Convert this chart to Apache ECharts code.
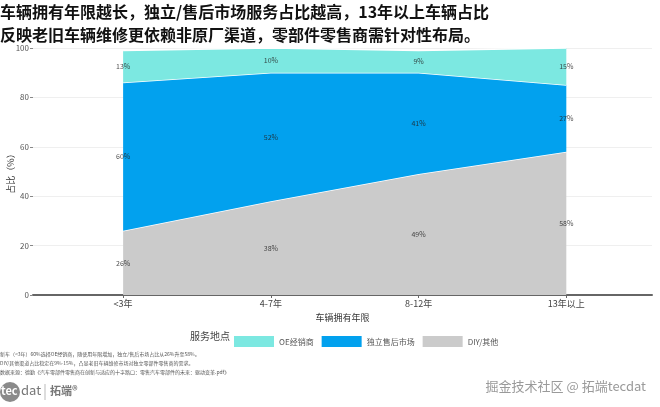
<!DOCTYPE html>
<html>
<head>
<meta charset="utf-8">
<script src="https://cdn.jsdelivr.net/npm/echarts@6/dist/echarts.min.js"></script>
<style>
  html, body { margin: 0; padding: 0; background: #fff; }
  #chart { width: 660px; height: 407px; }
</style>
</head>
<body>
<div id="chart"></div>
<script>
// 车辆拥有年限
const categories = ['<3年', '4-7年', '8-12年', '13年以上']
// 各服务地点占比（%）
const oeDealer = [13, 10, 9, 15]
const independent = [60, 52, 41, 27]
const diyOther = [26, 38, 49, 58]
const yTicks = [0, 20, 40, 60, 80, 100]

const names = ['DIY/其他', '独立售后市场', 'OE经销商']
const colors = ['#cbcbcb', '#02a1ee', '#7ce8e1']
const stacks = [diyOther, independent, oeDealer]

const font = '"Noto Sans CJK SC", sans-serif'

// 每个区块中间的标签位置
const labelData = []
stacks.forEach((arr, s) => {
    arr.forEach((v, i) => {
        let base = 0
        for (let k = 0; k < s; k++) base += stacks[k][i]
        labelData.push({ value: [i + 1, base + v / 2], pct: v })
    })
})

// 数据写成 [占比, 位置]，让堆叠落在 y 维度上
const areaSeries = stacks.map((arr, s) => ({
    name: names[s],
    type: 'line',
    stack: 'total',
    symbol: 'none',
    encode: { x: 1, y: 0 },
    data: arr.map((v, i) => [v, i + 1]),
    lineStyle: { color: '#fff', width: 1.5 },
    itemStyle: { color: colors[s] },
    areaStyle: { color: colors[s], opacity: 1 },
    z: 2 + s
}))

var myChart = echarts.init(document.getElementById('chart'))
var option = {
    animation: false,
    textStyle: { fontFamily: font },
    title: {
        text: '车辆拥有年限越长，独立/售后市场服务占比越高，13年以上车辆占比\n反映老旧车辆维修更依赖非原厂渠道，零部件零售商需针对性布局。',
        left: 0,
        top: 0,
        padding: 0,
        textStyle: { fontFamily: font, fontSize: 16, fontWeight: 'bold', color: '#111', lineHeight: 23 }
    },
    grid: { left: 33, right: 8, top: 48, bottom: 112, outerBoundsMode: 'none' },
    legend: {
        data: ['OE经销商', '独立售后市场', 'DIY/其他'],
        left: 229,
        top: 331,
        icon: 'rect',
        itemWidth: 40,
        itemHeight: 11,
        itemGap: 8,
        textStyle: { fontFamily: font, fontSize: 8, color: '#555' }
    },
    xAxis: {
        type: 'value',
        min: 0.39,
        max: 4.58,
        name: '车辆拥有年限',
        nameLocation: 'middle',
        nameGap: 18,
        nameMoveOverlap: false,
        nameTextStyle: { fontFamily: font, fontSize: 9, color: '#333' },
        axisLine: { show: true, lineStyle: { color: '#666', width: 2 } },
        axisTick: { show: true, customValues: [1, 2, 3, 4], length: 3, lineStyle: { color: '#666' } },
        axisLabel: {
            customValues: [1, 2, 3, 4],
            formatter: v => categories[Math.round(v) - 1],
            fontSize: 9,
            color: '#444',
            margin: 4
        },
        splitLine: { show: false }
    },
    yAxis: {
        type: 'value',
        min: 0,
        max: 100,
        interval: 20,
        name: '占比（%）',
        nameLocation: 'middle',
        nameGap: 18,
        nameMoveOverlap: false,
        nameTextStyle: { fontFamily: font, fontSize: 9, color: '#333' },
        axisLine: { show: false },
        axisTick: { show: true, length: 3, lineStyle: { color: '#888' } },
        axisLabel: { fontSize: 8, color: '#555', margin: 4, formatter: v => yTicks.includes(v) ? v : '' },
        splitLine: { lineStyle: { color: '#efefef', width: 1 } }
    },
    series: [
        ...areaSeries,
        {
            type: 'scatter',
            symbolSize: 1,
            itemStyle: { color: 'transparent' },
            data: labelData,
            z: 10,
            label: {
                show: true,
                position: 'inside',
                formatter: p => p.data.pct + '%',
                fontSize: 7,
                color: '#222'
            }
        }
    ],
    graphic: [
        { type: 'text', left: 190, top: 331, style: { text: '服务地点', font: '10px ' + font, fill: '#444' } },
        { type: 'text', left: 0, top: 352, style: { text: '新车（<3年）60%选择OE经销商，随使用年限增加，独立/售后市场占比从26%升至58%。', font: '5px ' + font, fill: '#555' } },
        { type: 'text', left: 0, top: 361, style: { text: 'DIY/其他渠道占比稳定在9%-15%，凸显老旧车辆维修市场对独立零部件零售商的需求。', font: '5px ' + font, fill: '#555' } },
        { type: 'text', left: 0, top: 370, style: { text: '数据来源：德勤《汽车零部件零售商在创新与适应的十字路口：零售汽车零部件的未来：驱动变革.pdf》', font: '5px ' + font, fill: '#555' } },
        { type: 'circle', shape: { cx: 10, cy: 392, r: 10 }, style: { fill: '#8a8a8a' } },
        { type: 'text', left: 1, top: 385, style: { text: 'tec', font: 'bold 11px ' + font, fill: '#fff' } },
        { type: 'text', left: 21, top: 384, style: { text: 'dat', font: '13px ' + font, fill: '#777' } },
        { type: 'line', shape: { x1: 45, y1: 384, x2: 45, y2: 400 }, style: { stroke: '#bbb', lineWidth: 1 } },
        { type: 'text', left: 50, top: 385, style: { text: '拓端®', font: 'bold 11px ' + font, fill: '#777' } },
        { type: 'text', right: 14, top: 380, style: { text: '掘金技术社区 @ 拓端tecdat', font: '13px ' + font, fill: '#9a9a9a' } }
    ]
}
myChart.setOption(option)
</script>
</body>
</html>
